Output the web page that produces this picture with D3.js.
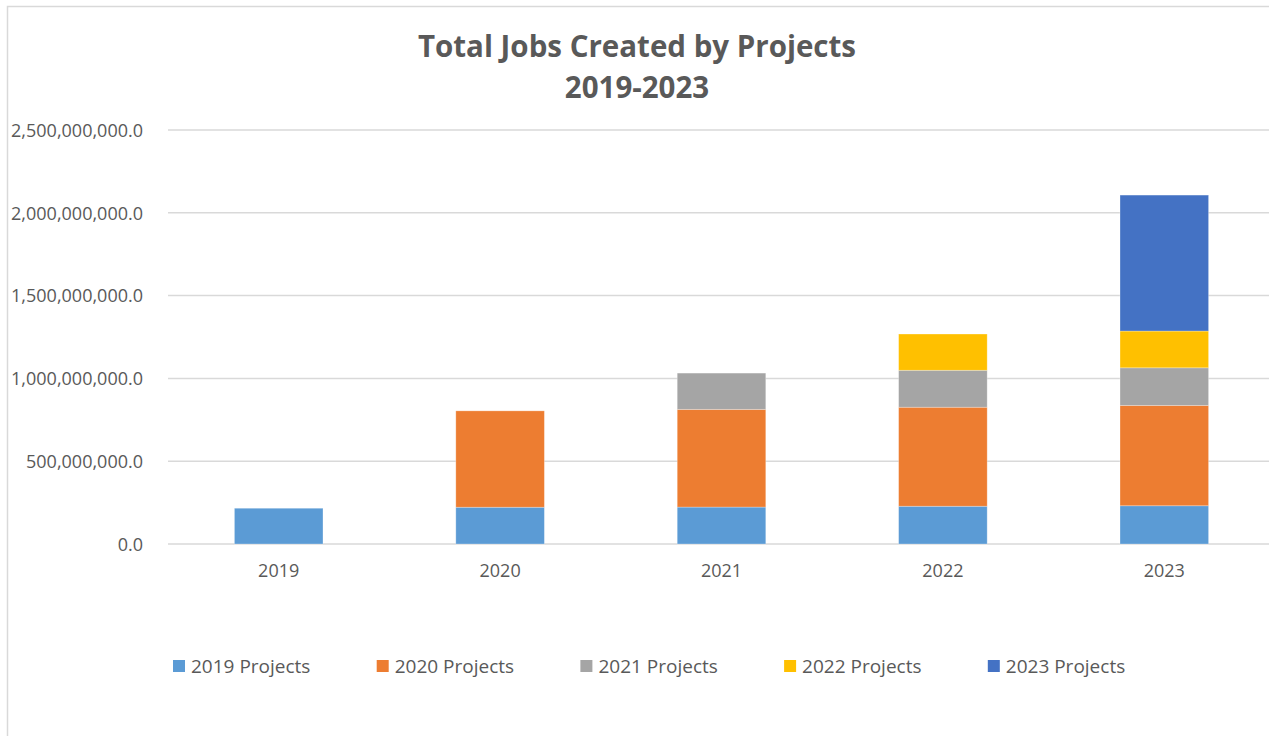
<!DOCTYPE html>
<html>
<head>
<meta charset="utf-8">
<script src="https://cdn.jsdelivr.net/npm/d3@7"></script>
<style>
  body { margin: 0; background: #fff; }
  text { font-family: "Open Sans", "Noto Sans", sans-serif; fill: #595959; }
</style>
</head>
<body>
<div id="chart"></div>
<script>
// -----------------------------------------------------------------------
//  Data
// -----------------------------------------------------------------------
const years = ["2019", "2020", "2021", "2022", "2023"];
const series = ["2019 Projects", "2020 Projects", "2021 Projects", "2022 Projects", "2023 Projects"];

// one array per series, one value per year (0 where project year not yet started)
const projects2019 = [216e6, 222e6, 223e6, 228e6, 231e6];
const projects2020 = [0, 582e6, 590e6, 598e6, 606e6];
const projects2021 = [0, 0, 219e6, 223e6, 227e6];
const projects2022 = [0, 0, 0, 219e6, 222e6];
const projects2023 = [0, 0, 0, 0, 821e6];

const yTicks = [0, 500e6, 1000e6, 1500e6, 2000e6, 2500e6];
const colors = ["#5b9bd5", "#ed7d31", "#a5a5a5", "#ffc000", "#4472c4"];

// -----------------------------------------------------------------------
const width = 1269, height = 736;
const margins = {top: 130, bottom: 192, left: 168, right: -6};

const svg = d3.select("#chart").append("svg")
    .attr("width", width)
    .attr("height", height);

// chart border
svg.append("rect")
    .attr("x", 7.5).attr("y", 6.5)
    .attr("width", 1300).attr("height", 760)
    .attr("fill", "none")
    .attr("stroke", "#d9d9d9")
    .attr("stroke-width", 1.5);

// title
svg.append("text")
    .attr("x", 637).attr("y", 57)
    .attr("text-anchor", "middle")
    .style("font-size", "29.5px").style("font-weight", "bold")
    .text("Total Jobs Created by Projects");
svg.append("text")
    .attr("x", 637).attr("y", 98)
    .attr("text-anchor", "middle")
    .style("font-size", "29.5px").style("font-weight", "bold")
    .text("2019-2023");

// scales
const x_scale = d3.scaleBand()
    .domain(years)
    .range([margins.left, width - margins.right])
    .paddingInner(0.6).paddingOuter(0.3);

const y_scale = d3.scaleLinear()
    .domain([0, 2500e6])
    .range([height - margins.bottom, margins.top]);

const color_scale = d3.scaleOrdinal().domain(series).range(colors);

// gridlines
svg.append("g")
    .selectAll("line")
    .data(yTicks)
    .join("line")
    .attr("x1", margins.left).attr("x2", width)
    .attr("y1", d => y_scale(d)).attr("y2", d => y_scale(d))
    .attr("stroke", "#d9d9d9")
    .attr("stroke-width", 1.5);

// y axis labels
const yAxis = svg.append("g")
    .attr("transform", `translate(${margins.left - 22},0)`)
    .call(d3.axisLeft(y_scale).tickValues(yTicks).tickSize(0).tickFormat(d3.format(",.1f")));
yAxis.select(".domain").remove();
yAxis.selectAll("text")
    .attr("dy", "0.35em")
    .style("font-size", "18px")
    .style("font-family", '"Open Sans", sans-serif')
    .attr("fill", "#595959");

// x axis labels
const xAxis = svg.append("g")
    .attr("transform", `translate(0,${height - margins.bottom})`)
    .call(d3.axisBottom(x_scale).tickSize(0).tickPadding(20));
xAxis.select(".domain").remove();
xAxis.selectAll("text")
    .style("font-size", "18px")
    .style("font-family", '"Open Sans", sans-serif')
    .attr("fill", "#595959");

// stacked bars
const table = years.map((yr, i) => ({
    year: yr,
    "2019 Projects": projects2019[i],
    "2020 Projects": projects2020[i],
    "2021 Projects": projects2021[i],
    "2022 Projects": projects2022[i],
    "2023 Projects": projects2023[i]
}));
const stacked = d3.stack().keys(series)(table);

svg.append("g")
    .selectAll("g")
    .data(stacked)
    .join("g")
    .attr("fill", d => color_scale(d.key))
    .selectAll("rect")
    .data(d => d.filter(s => s[1] - s[0] > 0))
    .join("rect")
    .attr("x", d => x_scale(d.data.year))
    .attr("width", x_scale.bandwidth())
    .attr("y", d => y_scale(d[1]))
    .attr("height", d => y_scale(d[0]) - y_scale(d[1]))
    .attr("stroke", "#fff")
    .attr("stroke-opacity", 0.35)
    .attr("stroke-width", 0.8);

// legend
const legend = svg.append("g")
    .selectAll("g")
    .data(series)
    .join("g")
    .attr("transform", (d, i) => `translate(${173 + i * 203.7},660)`);
legend.append("rect")
    .attr("width", 12).attr("height", 12)
    .attr("fill", d => color_scale(d));
legend.append("text")
    .attr("x", 18).attr("y", 6)
    .attr("dy", "0.35em")
    .style("font-size", "19px")
    .text(d => d);
</script>
</body>
</html>
